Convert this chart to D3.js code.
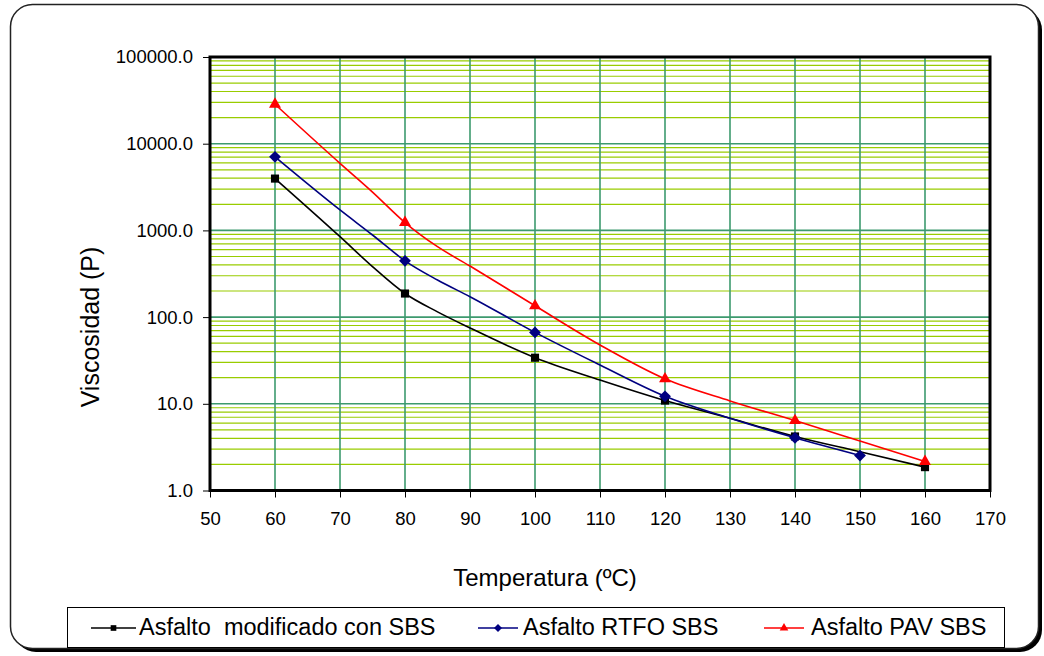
<!DOCTYPE html>
<html lang="es">
<head>
    <meta charset="UTF-8">
    <script src="https://cdn.jsdelivr.net/npm/d3@7"></script>
    <title>Viscosidad vs Temperatura</title>
    <style>
        body { margin: 0; background: #fff; }
        svg text { font-family: "Liberation Sans", Arial, sans-serif; fill: #000; white-space: pre; }
    </style>
</head>
<body>
    <div id="viz"></div>

    <script>
        // temperatures (ºC)
        const temps = [60, 70, 75, 80, 85, 90, 100, 110, 120, 130, 140, 150, 160]
        // viscosity (P) per series
        const modificado = [3960, 846, 382, 187, 115, 75, 34, 18.8, 10.9, 6.8, 4.2, 2.8, 1.86]
        const rtfo = [7050, 1720, 885, 446, 268, 172, 66.6, 28, 12.2, 6.8, 4.05, 2.53, null]
        const pav = [28500, 5940, 2770, 1233, 649, 388, 135, 47.7, 19.4, 10.8, 6.4, 3.72, 2.16]
        // which temperatures carry a marker
        const markersModificado = [60, 80, 100, 120, 140, 160]
        const markersRtfo = [60, 80, 100, 120, 140, 150]
        const markersPav = [60, 80, 100, 120, 140, 160]

        const xTicks = [50, 60, 70, 80, 90, 100, 110, 120, 130, 140, 150, 160, 170]
        const yTicks = [1, 10, 100, 1000, 10000, 100000]
        const seriesNames = ["Asfalto  modificado con SBS", "Asfalto RTFO SBS", "Asfalto PAV SBS"]

        const fullWidth = 1044
        const fullHeight = 656
        const plot = { left: 210, right: 990, top: 57, bottom: 490.5 }

        const svg = d3.select("#viz")
            .append("svg")
            .attr("width", fullWidth)
            .attr("height", fullHeight)

        // outer chart frame with shadow
        svg.append("rect")
            .attr("x", 14).attr("y", 8)
            .attr("width", 1028).attr("height", 644)
            .attr("rx", 22)
            .attr("fill", "#000")
        svg.append("rect")
            .attr("x", 10.5).attr("y", 4.5)
            .attr("width", 1028).attr("height", 644)
            .attr("rx", 22)
            .attr("fill", "#fff")
            .attr("stroke", "#222")
            .attr("stroke-width", 1.5)

        const xScale = d3.scaleLinear()
            .domain([50, 170])
            .range([plot.left, plot.right])

        const yScale = d3.scaleLog()
            .domain([1, 100000])
            .range([plot.bottom, plot.top])

        // minor gridlines 2..9 of every decade
        let minor = []
        yTicks.slice(0, -1).forEach(d => {
            for (let k = 2; k <= 9; k++) minor.push(d * k)
        })
        svg.append("g")
            .selectAll("line")
            .data(minor)
            .enter()
            .append("line")
            .attr("x1", plot.left).attr("x2", plot.right)
            .attr("y1", d => yScale(d)).attr("y2", d => yScale(d))
            .attr("stroke", "#99cc00")
            .attr("stroke-width", 1.2)

        // major gridlines
        svg.append("g")
            .selectAll("line")
            .data(yTicks)
            .enter()
            .append("line")
            .attr("x1", plot.left).attr("x2", plot.right)
            .attr("y1", d => yScale(d)).attr("y2", d => yScale(d))
            .attr("stroke", "#3d9a6e")
            .attr("stroke-width", 1.6)
        svg.append("g")
            .selectAll("line")
            .data(xTicks)
            .enter()
            .append("line")
            .attr("y1", plot.top).attr("y2", plot.bottom)
            .attr("x1", d => xScale(d)).attr("x2", d => xScale(d))
            .attr("stroke", "#3d9a6e")
            .attr("stroke-width", 1.6)

        // axes
        svg.append("g")
            .attr("transform", `translate(${plot.left},0)`)
            .call(d3.axisLeft(yScale).tickValues(yTicks).tickFormat(d3.format(".1f")).tickSize(7).tickPadding(10))
        svg.append("g")
            .attr("transform", `translate(0,${plot.bottom})`)
            .call(d3.axisBottom(xScale).tickValues(xTicks).tickSize(7).tickPadding(14))
        svg.selectAll(".domain").remove()
        svg.selectAll(".tick line").attr("stroke", "#000").attr("stroke-width", 1)
        svg.selectAll(".tick text")
            .style("font-family", "'Liberation Sans', Arial, sans-serif")
            .style("font-size", "18.5px")
            .attr("fill", "#000")

        // plot area border
        svg.append("rect")
            .attr("x", plot.left).attr("y", plot.top)
            .attr("width", plot.right - plot.left)
            .attr("height", plot.bottom - plot.top)
            .attr("fill", "none")
            .attr("stroke", "#000")
            .attr("stroke-width", 3)

        // diamond = square turned 45 degrees (d3's own diamond is too narrow)
        const series = [
            { name: seriesNames[0], values: modificado, marks: markersModificado, color: "#000000", symbol: d3.symbolSquare, size: 66, rot: 0 },
            { name: seriesNames[1], values: rtfo, marks: markersRtfo, color: "#000080", symbol: d3.symbolSquare, size: 70, rot: 45 },
            { name: seriesNames[2], values: pav, marks: markersPav, color: "#ff0000", symbol: d3.symbolTriangle, size: 62, rot: 0 }
        ]

        const line = d3.line()
            .x(d => xScale(d.t))
            .y(d => yScale(d.v))
            .curve(d3.curveMonotoneX)

        series.forEach(s => {
            const pts = temps.map((t, i) => ({ t: t, v: s.values[i] })).filter(d => d.v != null)
            svg.append("path")
                .datum(pts)
                .attr("d", line)
                .attr("fill", "none")
                .attr("stroke", s.color)
                .attr("stroke-width", 1.6)

            svg.append("g")
                .selectAll("path")
                .data(pts.filter(d => s.marks.includes(d.t)))
                .enter()
                .append("path")
                .attr("transform", d => `translate(${xScale(d.t)},${yScale(d.v)}) rotate(${s.rot})`)
                .attr("d", d3.symbol().type(s.symbol).size(s.size))
                .attr("fill", s.color)
        })

        // axis titles
        svg.append("text")
            .attr("x", 545).attr("y", 586)
            .attr("text-anchor", "middle")
            .style("font-size", "24px")
            .text("Temperatura (ºC)")
        svg.append("text")
            .attr("transform", "translate(99,327) rotate(-90)")
            .attr("text-anchor", "middle")
            .style("font-size", "25px")
            .text("Viscosidad (P)")

        // legend
        svg.append("rect")
            .attr("x", 67.5).attr("y", 607.5)
            .attr("width", 937).attr("height", 40)
            .attr("fill", "#fff")
            .attr("stroke", "#000")
            .attr("stroke-width", 1)

        const legendPos = [
            { x1: 91, x2: 136, tx: 139 },
            { x1: 478, x2: 518, tx: 523 },
            { x1: 764, x2: 804, tx: 811 }
        ]
        series.forEach((s, i) => {
            const p = legendPos[i]
            const g = svg.append("g")
            g.append("line")
                .attr("x1", p.x1).attr("x2", p.x2)
                .attr("y1", 628).attr("y2", 628)
                .attr("stroke", s.color)
                .attr("stroke-width", 1.6)
            g.append("path")
                .attr("transform", `translate(${(p.x1 + p.x2) / 2},628) rotate(${s.rot})`)
                .attr("d", d3.symbol().type(s.symbol).size(32))
                .attr("fill", s.color)
            g.append("text")
                .attr("x", p.tx).attr("y", 635)
                .style("font-size", "23.5px")
                .text(s.name)
        })
    </script>
</body>
</html>
